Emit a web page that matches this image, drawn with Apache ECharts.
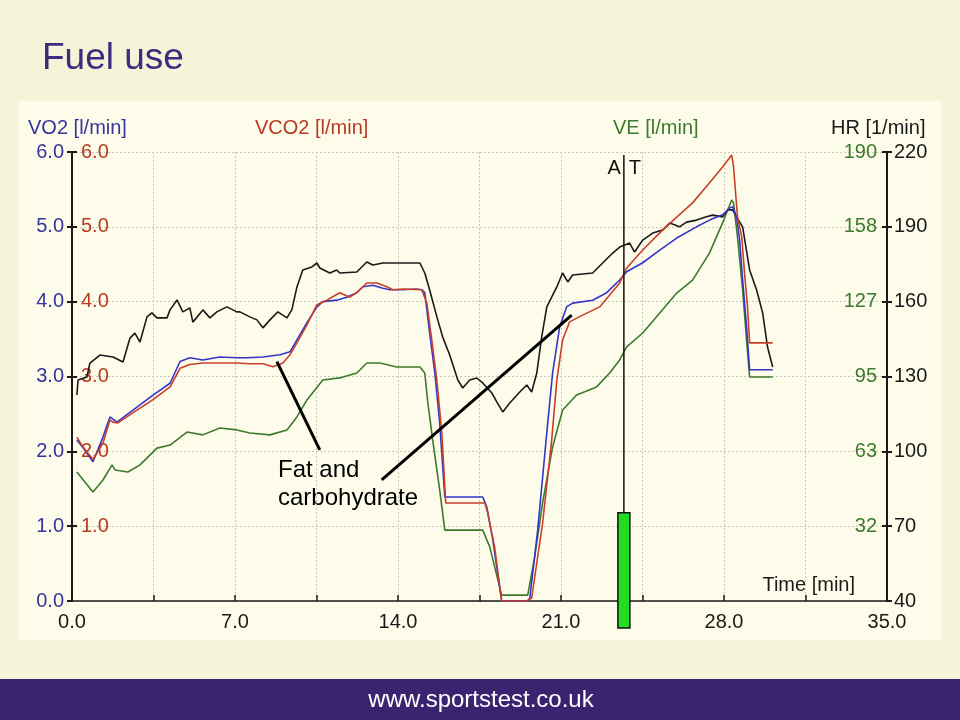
<!DOCTYPE html>
<html>
<head>
<meta charset="utf-8">
<script src="https://cdn.jsdelivr.net/npm/echarts@6/dist/echarts.min.js"></script>
<style>
html,body{margin:0;padding:0;background:#F5F3D8;}
#c{width:960px;height:720px;}
</style>
</head>
<body>
<div id="c"></div>
<script>
// ---- data (time [min], value) ----
const vo2 = [[0.21,2.15],[0.47,2.05],[0.90,1.86],[1.33,2.19],[1.63,2.46],[1.93,2.39],[2.79,2.59],[3.48,2.75],[4.21,2.91],[4.64,3.2],[5.06,3.25],[5.62,3.22],[6.35,3.26],[7.08,3.25],[7.51,3.25],[8.20,3.26],[8.93,3.29],[9.36,3.33],[9.66,3.49],[10.09,3.72],[10.52,3.93],[10.77,4.0],[11.37,4.02],[11.80,4.06],[12.23,4.12],[12.49,4.2],[12.92,4.22],[13.35,4.18],[13.65,4.16],[14.21,4.16],[14.81,4.17],[15.02,4.16],[15.15,4.12],[15.36,3.58],[15.58,3.05],[15.79,2.38],[16.01,1.39],[17.64,1.39],[17.81,1.26],[18.07,0.82],[18.45,0.0],[19.57,0.0],[19.66,0.04],[20.00,0.95],[20.39,2.25],[20.64,3.05],[20.94,3.66],[21.24,3.93],[21.50,3.98],[22.36,4.02],[22.96,4.12],[23.52,4.29],[23.82,4.4],[24.51,4.52],[25.24,4.69],[25.97,4.85],[26.82,5.0],[27.38,5.09],[27.94,5.16],[28.24,5.25],[28.37,5.27],[28.54,5.13],[28.67,4.83],[28.80,4.29],[28.97,3.66],[29.10,3.09],[30.09,3.09]];
const vco2 = [[0.21,2.19],[0.47,2.06],[0.90,1.89],[1.33,2.11],[1.63,2.42],[1.76,2.39],[1.97,2.38],[2.79,2.55],[3.48,2.69],[4.21,2.86],[4.64,3.11],[5.06,3.16],[5.62,3.18],[7.08,3.18],[7.64,3.17],[8.20,3.17],[8.63,3.13],[9.06,3.18],[9.36,3.29],[9.66,3.45],[10.09,3.69],[10.52,3.96],[10.94,4.02],[11.50,4.12],[11.93,4.06],[12.23,4.12],[12.66,4.25],[13.09,4.25],[13.52,4.2],[13.78,4.16],[14.21,4.17],[15.02,4.16],[15.24,3.98],[15.45,3.49],[15.67,2.95],[15.88,2.25],[16.05,1.31],[17.73,1.31],[17.85,1.18],[18.15,0.72],[18.45,0.0],[19.53,0.0],[19.74,0.04],[20.21,1.04],[20.60,2.15],[20.82,2.95],[21.07,3.49],[21.37,3.73],[21.80,3.8],[22.66,3.93],[23.09,4.09],[23.52,4.25],[23.82,4.45],[24.51,4.69],[25.24,4.92],[25.97,5.13],[26.65,5.32],[27.38,5.59],[27.94,5.8],[28.33,5.96],[28.41,5.8],[28.58,5.13],[28.76,4.87],[28.88,4.39],[29.01,3.93],[29.10,3.45],[30.09,3.45]];
const ve = [[0.21,54.6],[0.90,46.1],[1.33,51.2],[1.72,57.6],[1.85,55.4],[2.40,54.6],[2.92,57.6],[3.65,64.7],[4.21,66.0],[4.94,71.5],[5.62,70.3],[6.35,73.2],[7.08,72.4],[7.64,71.1],[8.50,70.3],[9.23,72.4],[9.66,77.9],[10.09,85.1],[10.77,93.5],[11.50,94.4],[12.23,96.5],[12.66,100.7],[13.22,100.7],[13.95,99],[14.94,99],[15.15,96.5],[15.28,84],[15.49,68.1],[15.79,47.0],[16.01,30.0],[17.64,30.0],[17.94,22.9],[18.45,2.5],[19.57,2.5],[19.87,18.6],[20.21,41.5],[20.64,65.2],[21.07,80.8],[21.67,87.2],[22.53,90.6],[23.09,96.5],[23.52,102],[23.82,107.5],[24.51,113.4],[25.24,121.9],[25.97,130.3],[26.65,135.8],[27.38,147.3],[27.94,160],[28.33,169.7],[28.41,168.4],[28.58,154],[28.80,131.6],[28.97,110.5],[29.10,94.8],[30.09,94.8]];
const hr = [[0.21,122.6],[0.26,128.6],[0.64,129.8],[0.77,135.4],[1.20,138.6],[1.76,137.8],[2.19,135.8],[2.49,145.4],[2.70,147.4],[2.92,143.8],[3.22,153.9],[3.43,155.5],[3.65,153.5],[4.08,153.5],[4.21,156.7],[4.51,160.7],[4.76,155.9],[5.06,157.5],[5.19,151.8],[5.62,156.7],[5.92,153.5],[6.22,155.9],[6.65,157.9],[7.08,155.9],[7.21,155.9],[7.64,153.9],[7.94,152.7],[8.20,149.5],[8.50,152.7],[8.84,155.9],[9.23,153.5],[9.44,156.7],[9.66,165.9],[9.91,172.7],[10.30,173.9],[10.52,175.5],[10.64,173.5],[11.07,171.5],[11.37,172.7],[11.50,171.5],[12.23,171.9],[12.66,175.9],[12.92,174.7],[13.35,175.5],[14.94,175.5],[15.15,171.5],[15.36,164.7],[15.67,153.9],[15.92,145.8],[16.22,138.6],[16.57,128.6],[16.78,125.4],[17.08,128.6],[17.38,129.4],[17.64,127.4],[18.03,123.4],[18.24,119.8],[18.50,115.8],[18.80,119.4],[19.23,123.8],[19.53,126.6],[19.74,123.8],[19.96,131.4],[20.17,145.8],[20.39,157.9],[20.82,165.9],[21.07,171.5],[21.29,167.9],[21.50,170.7],[22.36,171.5],[22.79,175.5],[23.22,179.5],[23.52,181.9],[23.95,183.5],[24.16,179.9],[24.51,184.7],[24.94,187.5],[25.36,188.7],[25.67,191.5],[26.09,190],[26.39,191.9],[26.82,192.7],[27.25,194],[27.51,194.7],[27.94,194],[28.15,196.8],[28.37,196.8],[28.54,194],[28.80,190],[29.10,172.7],[29.40,164.7],[29.66,155.5],[29.87,141.8],[30.09,133.8]];
// anaerobic threshold marker: [time, bar top (l/min), line top (l/min)]
const atMarker = [[23.7, 1.18, 5.96]];
// annotation pointer lines (time, l/min)
const pointer1 = [[8.80, 3.20], [10.64, 2.02]];
const pointer2 = [[13.30, 1.62], [21.46, 3.82]];
// axis ranges / ticks
const xTicks = {min: 0, max: 35, step: 3.5, labelEvery: 7};
const leftRange = {min: 0, max: 6, step: 1};
const veRange = {min: 0, max: 190, step: 190 / 6};
const hrRange = {min: 40, max: 220, step: 30};

const C_BLUE = '#35359F', C_RED = '#B83A22', C_GREEN = '#3D7A2E', C_BLACK = '#1A1A1A';
const FONT = 'Liberation Sans, Arial, sans-serif';
const chart = echarts.init(document.getElementById('c'), null, {renderer: 'canvas'});
const grid = {left: 72, right: 73, top: 152, bottom: 119};

const gridLine = {show: true, lineStyle: {color: '#C9C8BC', type: [2, 2], width: 1}};

chart.setOption({
  animation: false,
  backgroundColor: '#F5F3D8',
  grid: grid,
  graphic: [
    {type: 'rect', left: 18, top: 101, shape: {width: 924, height: 539}, style: {fill: '#FDFCEA'}, z: -10},
    {type: 'text', left: 42, top: 40, style: {text: 'Fuel use', font: '37px ' + FONT, fill: '#3F2A7E'}},
    {type: 'rect', left: 0, top: 679, shape: {width: 960, height: 41}, style: {fill: '#3A2470'}},
    {type: 'text', x: 481, y: 700, style: {text: 'www.sportstest.co.uk', font: '24px ' + FONT, fill: '#FFFFFF', align: 'center', verticalAlign: 'middle'}},
    {type: 'text', x: 28, y: 128, style: {text: 'VO2 [l/min]', font: '20px ' + FONT, fill: C_BLUE, verticalAlign: 'middle'}},
    {type: 'text', x: 255, y: 128, style: {text: 'VCO2 [l/min]', font: '20px ' + FONT, fill: C_RED, verticalAlign: 'middle'}},
    {type: 'text', x: 613, y: 128, style: {text: 'VE [l/min]', font: '20px ' + FONT, fill: C_GREEN, verticalAlign: 'middle'}},
    {type: 'text', x: 831, y: 128, style: {text: 'HR [1/min]', font: '20px ' + FONT, fill: C_BLACK, verticalAlign: 'middle'}},
    {type: 'text', x: 855, y: 585, style: {text: 'Time [min]', font: '20px ' + FONT, fill: C_BLACK, align: 'right', verticalAlign: 'middle'}},
    {type: 'text', x: 278, y: 470, style: {text: 'Fat and', font: '24px ' + FONT, fill: '#000', verticalAlign: 'middle'}},
    {type: 'text', x: 278, y: 498, style: {text: 'carbohydrate', font: '24px ' + FONT, fill: '#000', verticalAlign: 'middle'}}
  ],
  xAxis: {
    type: 'value', min: xTicks.min, max: xTicks.max, interval: xTicks.step,
    axisLine: {show: true, lineStyle: {color: C_BLACK, width: 1.5}},
    axisTick: {show: true, inside: true, length: 6, lineStyle: {color: C_BLACK, width: 1.5}},
    axisLabel: {
      color: C_BLACK, fontSize: 20, fontFamily: FONT, margin: 11,
      formatter: v => (Math.abs(v / xTicks.labelEvery - Math.round(v / xTicks.labelEvery)) < 1e-6 ? v.toFixed(1) : '')
    },
    splitLine: gridLine
  },
  yAxis: [
    {
      type: 'value', position: 'left', min: leftRange.min, max: leftRange.max, interval: leftRange.step,
      axisLine: {show: true, lineStyle: {color: C_BLACK, width: 2}},
      axisTick: {show: true, length: 5, lineStyle: {color: C_BLACK, width: 2}},
      axisLabel: {color: C_BLUE, fontSize: 20, fontFamily: FONT, margin: 8, formatter: v => v.toFixed(1)},
      splitLine: gridLine
    },
    {
      type: 'value', position: 'left', min: leftRange.min, max: leftRange.max, interval: leftRange.step,
      axisLine: {show: false},
      axisTick: {show: true, inside: true, length: 5, lineStyle: {color: C_BLACK, width: 2}},
      axisLabel: {inside: true, showMinLabel: false, color: C_RED, fontSize: 20, fontFamily: FONT, margin: 9, formatter: v => v.toFixed(1)},
      splitLine: {show: false}
    },
    {
      type: 'value', position: 'right', min: veRange.min, max: veRange.max, interval: veRange.step,
      axisLine: {show: false},
      axisTick: {show: true, inside: true, length: 5, lineStyle: {color: C_BLACK, width: 2}},
      axisLabel: {inside: true, showMinLabel: false, color: C_GREEN, fontSize: 20, fontFamily: FONT, margin: 10, formatter: v => String(Math.round(v))},
      splitLine: {show: false}
    },
    {
      type: 'value', position: 'right', min: hrRange.min, max: hrRange.max, interval: hrRange.step,
      axisLine: {show: true, lineStyle: {color: C_BLACK, width: 2}},
      axisTick: {show: true, length: 5, lineStyle: {color: C_BLACK, width: 2}},
      axisLabel: {color: C_BLACK, fontSize: 20, fontFamily: FONT, margin: 7, formatter: v => String(Math.round(v))},
      splitLine: {show: false}
    }
  ],
  series: [
    {name: 'VE', type: 'line', yAxisIndex: 2, data: ve, showSymbol: false, lineStyle: {color: C_GREEN, width: 1.6}, z: 3},
    {name: 'HR', type: 'line', yAxisIndex: 3, data: hr, showSymbol: false, lineStyle: {color: C_BLACK, width: 1.6}, z: 3},
    {name: 'VO2', type: 'line', yAxisIndex: 0, data: vo2, showSymbol: false, lineStyle: {color: '#3535C8', width: 1.6}, z: 4},
    {name: 'VCO2', type: 'line', yAxisIndex: 1, data: vco2, showSymbol: false, lineStyle: {color: '#C8402A', width: 1.6}, z: 4},
    {name: 'AT', type: 'custom', yAxisIndex: 0, clip: false, data: atMarker, encode: {x: 0, y: 1}, z: 6,
      renderItem: function (params, api) {
        const t = api.value(0);
        const base = api.coord([t, 0]);
        const top = api.coord([t, api.value(1)]);
        const lineTop = api.coord([t, api.value(2)]);
        return {type: 'group', children: [
          {type: 'line', shape: {x1: top[0], y1: lineTop[1], x2: top[0], y2: top[1]}, style: {stroke: '#111', lineWidth: 1.5}},
          {type: 'rect', shape: {x: top[0] - 6, y: top[1], width: 12, height: base[1] + 27 - top[1]}, style: {fill: '#22DD22', stroke: '#111', lineWidth: 1.5}},
          {type: 'text', style: {text: 'A', x: top[0] - 3, y: lineTop[1] + 13, align: 'right', verticalAlign: 'middle', font: '20px ' + FONT, fill: '#111'}},
          {type: 'text', style: {text: 'T', x: top[0] + 5, y: lineTop[1] + 13, align: 'left', verticalAlign: 'middle', font: '20px ' + FONT, fill: '#111'}}
        ]};
      }
    },
    {name: 'pointer1', type: 'line', yAxisIndex: 0, data: pointer1, showSymbol: false, lineStyle: {color: '#000', width: 3}, z: 7},
    {name: 'pointer2', type: 'line', yAxisIndex: 0, data: pointer2, showSymbol: false, lineStyle: {color: '#000', width: 3}, z: 7}
  ]
});
</script>
</body>
</html>
